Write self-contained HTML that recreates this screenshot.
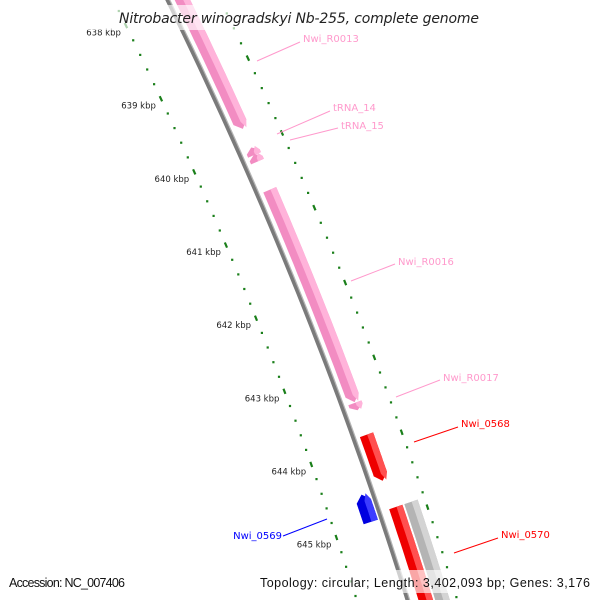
<!DOCTYPE html>
<html><head><meta charset="utf-8"><style>
html,body{margin:0;padding:0;background:#fff;width:600px;height:600px;overflow:hidden}
svg{display:block;overflow:hidden}
</style></head><body>
<svg id="map" width="600" height="600" viewBox="0 0 600 600" xmlns="http://www.w3.org/2000/svg">
<g id="ticks"></g>
<g id="backbone"></g>
<g id="features"></g>
<g id="labels"></g>
<rect x="0" y="5" width="600" height="25" fill="#fff" opacity="0.65"/>
<text x="299" y="23" text-anchor="middle" font-family="DejaVu Sans, Liberation Sans, sans-serif" font-style="italic" font-size="14" fill="#222" textLength="360">Nitrobacter winogradskyi Nb-255, complete genome</text>
<rect x="0" y="570" width="600" height="23" fill="#fff" opacity="0.65"/>
<text x="9" y="587" font-family="Liberation Sans, DejaVu Sans, sans-serif" font-size="12.5" fill="#111" textLength="116" lengthAdjust="spacing">Accession: NC_007406</text>
<text x="590" y="587" text-anchor="end" font-family="Liberation Sans, DejaVu Sans, sans-serif" font-size="12.5" fill="#111" textLength="330" lengthAdjust="spacing">Topology: circular; Length: 3,402,093 bp; Genes: 3,176</text>
</svg>
<script>
const featureNames = ["Nwi_R0013","tRNA_14","tRNA_15","Nwi_R0016","Nwi_R0017","Nwi_0568","Nwi_0569","Nwi_0570","gray-track"];
const featureStart = [637.9, 640.01, 640.10, 640.58, 643.45, 643.88, 644.58, 644.87, 644.87];
const featureEnd   = [639.76, 640.11, 640.20, 643.44, 643.55, 644.50, 644.95, 646.7, 646.7];
const featureStrand = [1, -1, -1, 1, 1, 1, -1, 1, 1];
const majorTicks = [638, 639, 640, 641, 642, 643, 644, 645];
const tickLabels = ["638 kbp","639 kbp","640 kbp","641 kbp","642 kbp","643 kbp","644 kbp","645 kbp"];

const NS="http://www.w3.org/2000/svg";
function yOf(k){return 78+74*(k-639);}
function pt(k,r){
  const y=yOf(k);
  const x=168+0.49*y-0.00015*y*y;
  const s=0.49-0.0003*y, L=Math.sqrt(1+s*s);
  return [x+r/L, y-r*s/L];
}
function mk(tag,attrs,parent){const e=document.createElementNS(NS,tag);for(const a in attrs)e.setAttribute(a,attrs[a]);parent.appendChild(e);return e;}
const tg=document.getElementById('ticks');
for(let i=0;i<=45;i++){
  const k=637.4+i*0.2;
  if(Math.abs(k-Math.round(k))<0.01) continue;
  for(const r of [-49,47]){
    const p=pt(k,r);
    const d=mk('rect',{x:(p[0]-1).toFixed(1),y:(p[1]-1).toFixed(1),width:2.2,height:2.2,fill:'#1a7f1a'},tg);
    
    
  }
}
majorTicks.forEach((k,i)=>{
  for(const r of [-49,47]){
    const a=pt(k-0.035,r), b=pt(k+0.035,r);
    const l=mk('line',{x1:a[0],y1:a[1],x2:b[0],y2:b[1],stroke:'#1a7f1a','stroke-width':2.2},tg);
    
    
  }
  const p=pt(k,-49);
  const t=mk('text',{x:(p[0]-5).toFixed(1),y:(p[1]+10).toFixed(1),'text-anchor':'end','font-family':'DejaVu Sans, Liberation Sans, sans-serif','font-size':8.5,fill:'#222'},tg);
  t.textContent=tickLabels[i];
  
  
});
const bg=document.getElementById('backbone');
function linePts(k0,k1,r){let s=[];for(let i=0;i<=40;i++){const p=pt(k0+(k1-k0)*i/40,r);s.push(p[0].toFixed(1)+','+p[1].toFixed(1));}return s.join(' ');}
const bb=mk('polyline',{points:linePts(637.2,646.6,-0.5),fill:'none',stroke:'#7a7a7a','stroke-width':4},bg);


mk('polyline',{points:linePts(637.2,646.6,1.6),fill:'none',stroke:'#b5b5b5','stroke-width':1.2},bg);
const colors={"Nwi_R0013":["#f28cc2","#ffb3da"],"tRNA_14":["#f28cc2","#ffb3da"],"tRNA_15":["#f28cc2","#ffb3da"],"Nwi_R0016":["#f28cc2","#ffb3da"],"Nwi_R0017":["#f28cc2","#ffb3da"],"Nwi_0568":["#ee0000","#ff5050"],"Nwi_0569":["#0000e0","#3c3cff"],"Nwi_0570":["#ee0000","#ff5050"],"gray-track":["#b4b4b4","#d4d4d4"]};
const radii={"Nwi_0569":[-19,-4],"gray-track":[26,40],"Nwi_0570":[10,24]};
const fg=document.getElementById('features');
function shape(k0,k1,r1,r2,strand){
  const tip=Math.min(0.09,(k1-k0)*0.6);
  const rm=(r1+r2)/2, pts=[];
  if(strand>0){
    for(let i=0;i<=20;i++)pts.push(pt(k0+(k1-tip-k0)*i/20,r1));
    pts.push(pt(k1,rm));
    for(let i=20;i>=0;i--)pts.push(pt(k0+(k1-tip-k0)*i/20,r2));
  }else{
    pts.push(pt(k0,rm));
    for(let i=0;i<=20;i++)pts.push(pt(k0+tip+(k1-k0-tip)*i/20,r2));
    for(let i=20;i>=0;i--)pts.push(pt(k0+tip+(k1-k0-tip)*i/20,r1));
  }
  return pts.map(p=>p[0].toFixed(1)+','+p[1].toFixed(1)).join(' ');
}
featureNames.forEach((n,i)=>{
  const r=radii[n]||[6,20];
  const c=colors[n];
  const g=mk('g',{},fg);
  
  
  mk('polygon',{points:shape(featureStart[i],featureEnd[i],r[0],r[1],featureStrand[i]),fill:c[0]},g);
  const w=r[1]-r[0];
  mk('polygon',{points:shape(featureStart[i],featureEnd[i],r[0]+w*0.55,r[1],featureStrand[i]),fill:c[1]},g);
});
const lg=document.getElementById('labels');
const labs=[["Nwi_R0013","#ff99cc",257,61,300,42,303,42,"start"],["tRNA_14","#ff99cc",277,134,330,111,333,111,"start"],["tRNA_15","#ff99cc",290,140,338,128,341,129,"start"],["Nwi_R0016","#ff99cc",351,281,395,264,398,265,"start"],["Nwi_R0017","#ff99cc",396,397,440,380,443,381,"start"],["Nwi_0568","#ff0000",414,442,458,427,461,427,"start"],["Nwi_0569","#0000ff",327,519,283,536,282,539,"end"],["Nwi_0570","#ff0000",454,553,498,538,501,538,"start"]];
labs.forEach(L=>{
  const l=mk('line',{x1:L[2],y1:L[3],x2:L[4],y2:L[5],stroke:L[1],'stroke-width':1},lg);
  
  
  const t=mk('text',{x:L[6],y:L[7],'text-anchor':L[8],'font-family':'DejaVu Sans, Liberation Sans, sans-serif','font-size':10,fill:L[1]},lg);
  t.textContent=L[0];
  
  
});
</script>
</body></html>
